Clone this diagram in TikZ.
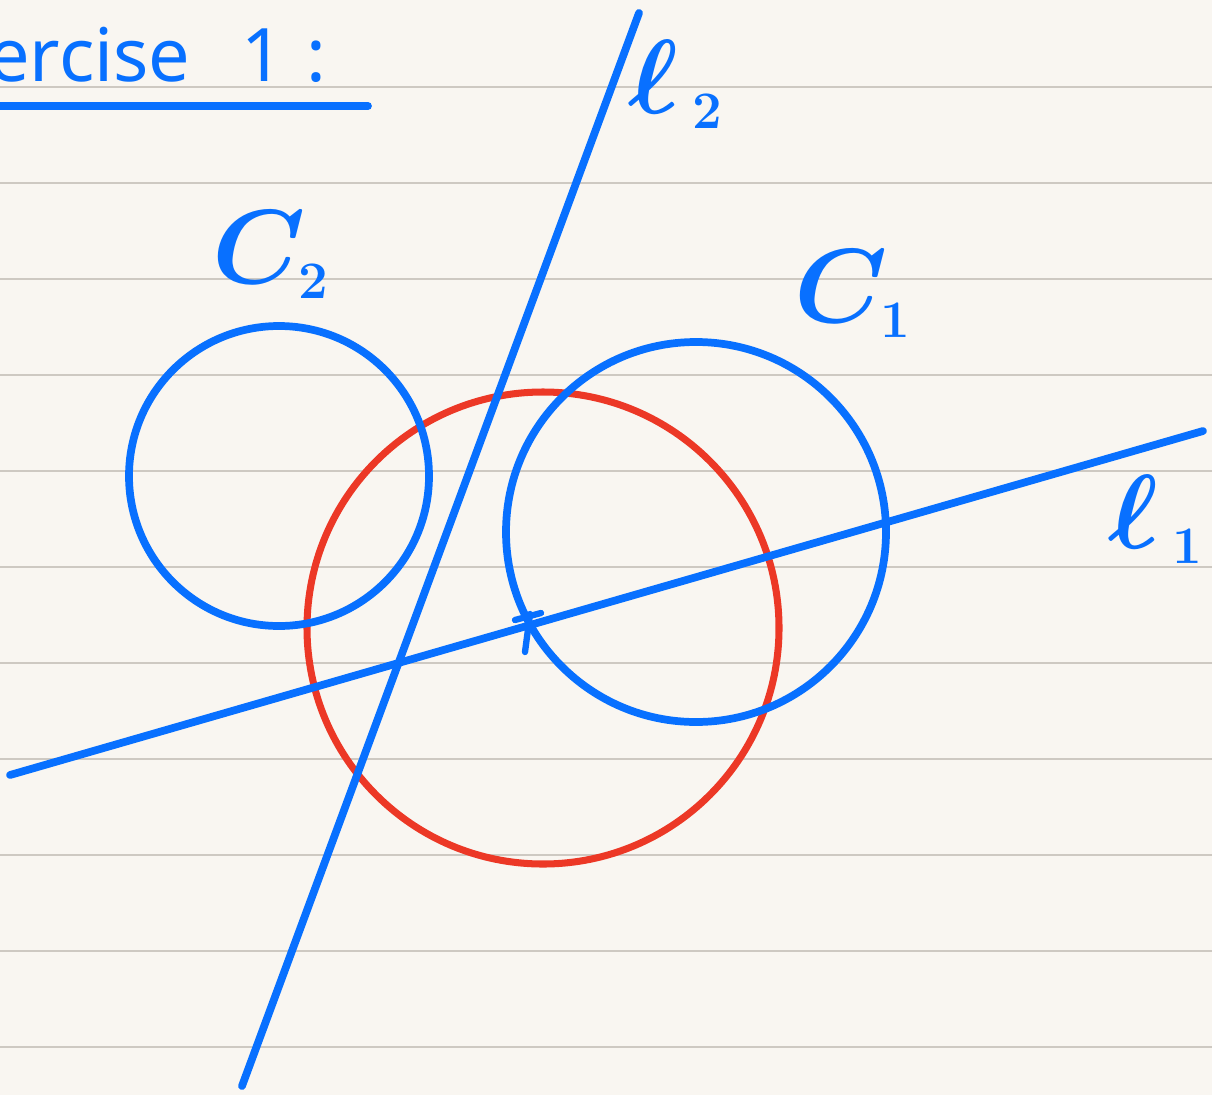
\RequirePackage{fix-cm}
\documentclass[tikz,border=0pt]{standalone}
\usepackage{amsmath}
\usepackage{amssymb}
\usepackage{fontspec}
\newfontfamily\handfont{Noto Sans}
\definecolor{inkblue}{RGB}{8,112,255}
\definecolor{inkred}{RGB}{236,56,38}
\definecolor{paper}{RGB}{249,246,241}
\definecolor{ruleline}{RGB}{206,201,194}

\begin{document}
\begin{tikzpicture}[x=0.02cm,y=-0.02cm]
\tikzstyle{every node}=[text=inkblue, inner sep=0pt]
\tikzstyle{lab}=[anchor=base west, font=\fontsize{60pt}{70pt}\selectfont\boldmath]
\tikzstyle{pen}=[draw=inkblue, line width=4.4pt, line cap=round, line join=round]
\tikzstyle{redpen}=[draw=inkred, line width=4pt, line cap=round]
\tikzstyle{ruling}=[draw=ruleline, line width=1.1pt]
\fill [paper] (0,0) rectangle (1212,1095);
\useasboundingbox (0,0) rectangle (1212,1095);
\foreach \y in {87,183,...,1047}
  \draw [ruling] (0,\y) -- (1212,\y);
\node [anchor=base west, font=\handfont\fontsize{42pt}{52pt}\selectfont] (title) at (-12,82) {ercise\hspace{0.7em}1\hspace{0.3em}:};
\coordinate (ulstart) at (-10,106);
\coordinate (ulend) at (368,106);
\draw [pen] (ulstart) -- (ulend);
\coordinate (l1a) at (10,775);
\coordinate (l1b) at (1203,431);
\coordinate (l2a) at (242,1086);
\coordinate (l2b) at (639,13);
\coordinate (c1) at (696,532);
\coordinate (c2) at (279,476);
\coordinate (c3) at (543,628);
\coordinate (p) at (527,622);
\draw [redpen] (c3) circle [radius=236];
\draw [pen] (c2) circle [radius=150];
\draw [pen] (c1) circle [radius=190];
\draw [pen] (l1a) -- (l1b);
\draw [pen] (l2a) -- (l2b);
\draw [pen, line width=3.6pt] ([shift={(3,-8)}]p) -- ([shift={(-2,30)}]p);
\draw [pen, line width=3.6pt] ([shift={(-12,-2)}]p) -- ([shift={(14,-9)}]p);
\node [lab] (ltwo) at (628,113) {$\ell_{\,\scriptscriptstyle 2}$};
\node [lab] (ctwo) at (212,283) {$C_{\scriptscriptstyle 2}$};
\node [lab] (cone) at (794,322) {$C_{\scriptscriptstyle 1}$};
\node [lab] (lone) at (1108,548) {$\ell_{\,\scriptscriptstyle 1}$};
\end{tikzpicture}
\end{document}
